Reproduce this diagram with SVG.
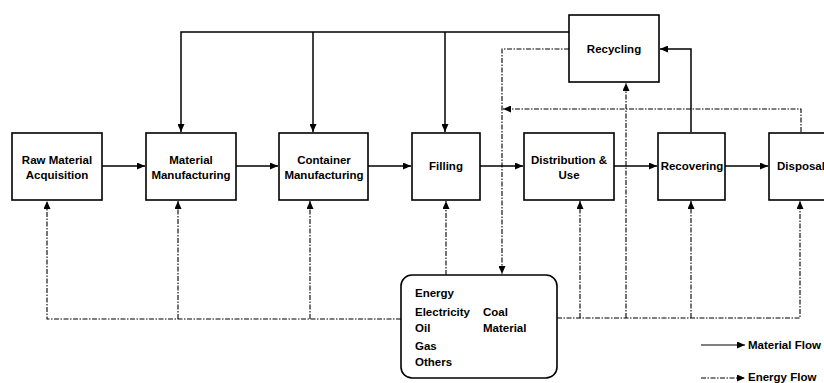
<svg xmlns="http://www.w3.org/2000/svg" width="824" height="383" viewBox="0 0 824 383">
<defs>
<marker id="ah" markerWidth="8" markerHeight="7" refX="8" refY="3.5" orient="auto" markerUnits="userSpaceOnUse">
<path d="M0,0 L8,3.5 L0,7 Z" fill="#000"/>
</marker>
<style>
.box{fill:#fff;stroke:#000;stroke-width:1.6}
.t{font-family:"Liberation Sans",Arial,sans-serif;font-weight:bold;font-size:11.5px;fill:#000}
.m{text-anchor:middle}
.sol{fill:none;stroke:#000;stroke-width:1.5}
.dsh{fill:none;stroke:#000;stroke-width:1.1;stroke-dasharray:5,1.5,1.5,1.5}
</style>
</defs>
<rect width="824" height="383" fill="#fff"/>
<g id="connectors">
<path class="sol" d="M569,32 H181 V132" marker-end="url(#ah)"/>
<path class="sol" d="M313,32 V132" marker-end="url(#ah)"/>
<path class="sol" d="M445,32 V132" marker-end="url(#ah)"/>
<path class="sol" d="M102,166 H145" marker-end="url(#ah)"/>
<path class="sol" d="M236,166 H278" marker-end="url(#ah)"/>
<path class="sol" d="M368,166 H411" marker-end="url(#ah)"/>
<path class="sol" d="M480,166 H523" marker-end="url(#ah)"/>
<path class="sol" d="M614,166 H657" marker-end="url(#ah)"/>
<path class="sol" d="M725,166 H768" marker-end="url(#ah)"/>
<path class="sol" d="M691,132 V49 H660" marker-end="url(#ah)"/>
<path class="dsh" d="M569,49 H502 V274" marker-end="url(#ah)"/>
<path class="dsh" d="M801,132 V109 H503" marker-end="url(#ah)"/>
<path class="dsh" d="M626,318 V83" marker-end="url(#ah)"/>
<path class="dsh" d="M401,319 H47 V201" marker-end="url(#ah)"/>
<path class="dsh" d="M178,319 V201" marker-end="url(#ah)"/>
<path class="dsh" d="M310,319 V201" marker-end="url(#ah)"/>
<path class="dsh" d="M446,275 V201" marker-end="url(#ah)"/>
<path class="dsh" d="M557,318 H800 V201" marker-end="url(#ah)"/>
<path class="dsh" d="M580,318 V201" marker-end="url(#ah)"/>
<path class="dsh" d="M691,318 V201" marker-end="url(#ah)"/>
</g>
<g id="raw"><rect class="box" x="12" y="133" width="90" height="67"/><text class="t m" x="57" y="164">Raw Material</text><text class="t m" x="57" y="179">Acquisition</text></g>
<g id="matman"><rect class="box" x="146" y="133" width="90" height="67"/><text class="t m" x="191" y="164">Material</text><text class="t m" x="191" y="179">Manufacturing</text></g>
<g id="container"><rect class="box" x="279" y="133" width="89" height="67"/><text class="t m" x="324" y="164">Container</text><text class="t m" x="324" y="179">Manufacturing</text></g>
<g id="filling"><rect class="box" x="412" y="133" width="68" height="67"/><text class="t m" x="446" y="170">Filling</text></g>
<g id="distribution"><rect class="box" x="524" y="133" width="90" height="67"/><text class="t m" x="569" y="164">Distribution &amp;</text><text class="t m" x="569" y="179">Use</text></g>
<g id="recovering"><rect class="box" x="658" y="133" width="67" height="67"/><text class="t m" x="692" y="170">Recovering</text></g>
<g id="disposal"><rect class="box" x="769" y="133" width="70" height="67"/><text class="t" x="777" y="170">Disposal</text></g>
<g id="recycling"><rect class="box" x="569" y="15" width="90" height="67"/><text class="t m" x="614" y="53">Recycling</text></g>
<g id="energy"><rect class="box" x="401" y="275" width="156" height="103" rx="11" ry="11"/>
<text class="t" x="415" y="297">Energy</text>
<text class="t" x="415" y="316">Electricity</text><text class="t" x="483" y="316">Coal</text>
<text class="t" x="415" y="332">Oil</text><text class="t" x="483" y="332">Material</text>
<text class="t" x="415" y="350">Gas</text>
<text class="t" x="415" y="366">Others</text>
</g>
<g id="legend">
<path class="sol" d="M701,345 H745" style="stroke-width:1.2" marker-end="url(#ah)"/>
<text class="t" x="748" y="349">Material Flow</text>
<path class="dsh" d="M701,378 H745" marker-end="url(#ah)"/>
<text class="t" x="748" y="381">Energy Flow</text>
</g>
</svg>
